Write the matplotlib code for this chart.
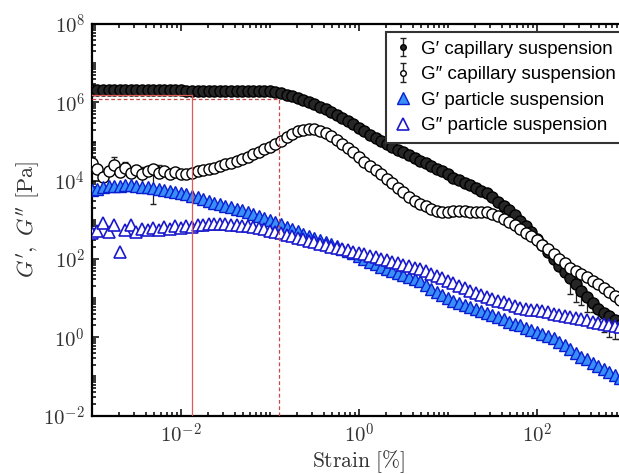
#!/usr/bin/env python
# -*- coding: utf-8 -*-

"""
Amplitude sweep: G' / G'' of a capillary suspension vs. a plain particle suspension
"""

import numpy as np
import matplotlib
matplotlib.use("Agg")
import matplotlib.pyplot as plt
from matplotlib.ticker import FixedLocator, FixedFormatter, LogLocator, NullFormatter

# ---- data ----
strain = [1.00e-3, 1.15e-3, 1.33e-3, 1.54e-3, 1.78e-3, 2.05e-3, 2.37e-3, 2.74e-3,
          3.16e-3, 3.65e-3, 4.22e-3, 4.87e-3, 5.62e-3, 6.49e-3, 7.50e-3, 8.66e-3,
          1.00e-2, 1.15e-2, 1.33e-2, 1.54e-2, 1.78e-2, 2.05e-2, 2.37e-2, 2.74e-2,
          3.16e-2, 3.65e-2, 4.22e-2, 4.87e-2, 5.62e-2, 6.49e-2, 7.50e-2, 8.66e-2,
          1.00e-1, 1.15e-1, 1.33e-1, 1.54e-1, 1.78e-1, 2.05e-1, 2.37e-1, 2.74e-1,
          3.16e-1, 3.65e-1, 4.22e-1, 4.87e-1, 5.62e-1, 6.49e-1, 7.50e-1, 8.66e-1,
          1.00, 1.15, 1.33, 1.54, 1.78, 2.05, 2.37, 2.74,
          3.16, 3.65, 4.22, 4.87, 5.62, 6.49, 7.50, 8.66,
          10.0, 11.5, 13.3, 15.4, 17.8, 20.5, 23.7, 27.4,
          31.6, 36.5, 42.2, 48.7, 56.2, 64.9, 75.0, 86.6,
          100., 115., 133., 154., 178., 205., 237., 274.,
          316., 365., 422., 487., 562., 649., 750., 866.]

g1_cap = [2.05e6, 2.05e6, 2.04e6, 2.05e6, 2.04e6, 2.04e6, 2.04e6, 2.03e6,
          2.04e6, 2.03e6, 2.03e6, 2.03e6, 2.02e6, 2.03e6, 2.02e6, 2.02e6,
          2.02e6, 2.01e6, 2.01e6, 2.01e6, 2.00e6, 2.00e6, 2.00e6, 1.99e6,
          1.99e6, 1.98e6, 1.98e6, 1.97e6, 1.96e6, 1.95e6, 1.94e6, 1.93e6,
          1.91e6, 1.80e6, 1.70e6, 1.55e6, 1.44e6, 1.30e6, 1.16e6, 1.04e6,
          9.3e5, 7.85e5, 6.6e5, 5.6e5, 4.74e5, 4.03e5, 3.39e5, 2.75e5,
          2.24e5, 1.84e5, 1.51e5, 1.26e5, 1.02e5, 8.7e4, 7.4e4, 6.24e4,
          5.25e4, 4.47e4, 3.78e4, 3.22e4, 2.75e4, 2.34e4, 2.0e4, 1.72e4,
          1.44e4, 1.2e4, 1.03e4, 8.8e3, 7.6e3, 6.5e3, 5.56e3, 4.78e3,
          3.72e3, 2.88e3, 2.24e3, 1.74e3, 1.32e3, 955, 690, 490,
          330, 225, 151, 99, 65, 46, 33, 23,
          15.5, 10.4, 7.4, 5.4, 4.2, 3.4, 2.7, 2.1]

g2_cap = [2.8e4, 2.0e4, 1.26e4, 1.82e4, 2.5e4, 1.66e4, 2.14e4, 1.58e4,
          1.9e4, 1.45e4, 1.74e4, 2.0e4, 1.58e4, 1.82e4, 1.48e4, 1.62e4,
          1.45e4, 1.51e4, 1.58e4, 1.74e4, 1.86e4, 2.0e4, 2.16e4, 2.34e4,
          2.6e4, 2.85e4, 3.13e4, 3.5e4, 4.07e4, 4.8e4, 5.56e4, 6.46e4,
          7.24e4, 8.5e4, 1.05e5, 1.32e5, 1.58e5, 1.84e5, 2.02e5, 2.11e5,
          2.09e5, 1.86e5, 1.62e5, 1.35e5, 1.07e5, 8.5e4, 6.8e4, 5.25e4,
          4.0e4, 3.05e4, 2.4e4, 1.86e4, 1.46e4, 1.12e4, 8.5e3, 6.5e3,
          5.0e3, 3.8e3, 3.0e3, 2.57e3, 2.19e3, 1.9e3, 1.72e3, 1.62e3,
          1.62e3, 1.66e3, 1.66e3, 1.64e3, 1.62e3, 1.6e3, 1.58e3, 1.55e3,
          1.38e3, 1.23e3, 1.07e3, 870, 720, 596, 473, 380,
          302, 229, 176, 133, 102, 79, 60, 50,
          41, 34, 27.5, 22.4, 18.2, 14.5, 11.5, 9.1]

g1_par = [5.8e3, 6.3e3, 6.8e3, 7.2e3, 7.4e3, 7.5e3, 7.6e3, 7.6e3,
          7.3e3, 7.1e3, 6.8e3, 6.6e3, 6.2e3, 5.9e3, 5.6e3, 5.2e3,
          4.9e3, 4.5e3, 4.1e3, 3.76e3, 3.4e3, 3.05e3, 2.75e3, 2.5e3,
          2.3e3, 2.1e3, 1.93e3, 1.76e3, 1.6e3, 1.45e3, 1.26e3, 1.12e3,
          980, 860, 760, 660, 575, 510, 447, 390,
          343, 302, 270, 237, 209, 184, 162, 138,
          118, 100, 85, 73, 63, 56, 49, 44,
          39, 35, 31, 28, 22, 17, 14.1, 12,
          10.1, 8.6, 7.6, 6.7, 5.9, 5.2, 4.6, 4.1,
          3.6, 3.2, 2.85, 2.5, 2.24, 2.0, 1.76, 1.57,
          1.38, 1.23, 1.08, 0.95, 0.77, 0.62, 0.50, 0.40,
          0.32, 0.27, 0.22, 0.184, 0.155, 0.129, 0.107, 0.090]

g2_par = [460, 525, 850, 480, 720, 148, 550, 720,
          500, 600, 540, 630, 560, 660, 590, 690,
          620, 710, 660, 740, 720, 780, 760, 770,
          760, 750, 730, 710, 680, 650, 620, 575,
          530, 490, 450, 410, 380, 350, 320, 295,
          270, 245, 225, 207, 193, 178, 166, 155,
          141, 132, 120, 112, 102, 94, 86, 79,
          72, 65, 60, 54, 48, 42, 36, 32,
          27, 23.7, 20.4, 17.8, 15.5, 13.6, 12, 10.5,
          9.4, 8.6, 7.8, 7.0, 6.3, 5.75, 5.4, 5.1,
          4.85, 4.6, 4.3, 4.0, 3.76, 3.55, 3.3, 3.1,
          2.9, 2.7, 2.5, 2.35, 2.2, 2.07, 1.93, 1.8]

# error bars: G'' capillary (first points), G' capillary (last points)
g2_cap_err_lo = [5e3, 4e3, 2e3, 4e3, 6e3, 3e3, 5e3, 3e3, 4e3, 7.7e3, 3e3, 1.74e4, 3e3, 3e3, 2.5e3, 2e3, 1.5e3]
g2_cap_err_hi = [6e3, 5e3, 4e3, 4e3, 1.5e4, 3e3, 8e3, 3e3, 4e3, 7.5e3, 5e3, 5e3, 8.7e3, 4e3, 3e3, 2e3, 1.5e3]
g1_cap_err_lo = [20, 15, 9, 6, 3, 2.5, 2.8, 2.4, 1.8, 1.2]
g1_cap_err_hi = [6, 5, 4, 3, 2, 1.5, 1.2, 1.0, 0.8, 0.6]

# limits marked with red lines (solid / dashed)
lve_solid = (1.32e-2, 1.58e6)
lve_dashed = (1.26e-1, 1.19e6)

labels = ["G\u2032 capillary suspension", "G\u2033 capillary suspension",
          "G\u2032 particle suspension", "G\u2033 particle suspension"]
x_ticks = [1e-2, 1e0, 1e2]
x_ticklabels = [r"$10^{-2}$", r"$10^{0}$", r"$10^{2}$"]
y_ticks = [1e-2, 1e0, 1e2, 1e4, 1e6, 1e8]
y_ticklabels = [r"$10^{-2}$", r"$10^{0}$", r"$10^{2}$", r"$10^{4}$", r"$10^{6}$", r"$10^{8}$"]


def full_err(lo, hi, n, start):
    """pad partial error lists to full length"""
    e = np.zeros((2, n))
    e[0, start:start + len(lo)] = lo
    e[1, start:start + len(hi)] = hi
    return e


def main():
    plt.rcParams['mathtext.fontset'] = 'cm'
    fig = plt.figure(figsize=(6.19, 4.74), dpi=100)
    # right side of the original is cropped, so the axes run past the figure edge
    ax = fig.add_axes([0.1486, 0.1234, 0.8627, 0.8257])
    ax.set_xscale('log')
    ax.set_yscale('log')

    n = len(strain)
    err2 = full_err(g2_cap_err_lo, g2_cap_err_hi, n, 0)
    err1 = full_err(g1_cap_err_lo, g1_cap_err_hi, n, n - len(g1_cap_err_lo))

    ax.errorbar(strain, g1_cap, yerr=err1, fmt='o', ms=8, mfc='#262626', mec='black', mew=1.0,
                ecolor='#222222', elinewidth=0.9, capsize=2, zorder=3)
    ax.errorbar(strain, g2_cap, yerr=err2, fmt='o', ms=8, mfc='white', mec='black', mew=1.0,
                ecolor='#222222', elinewidth=0.9, capsize=2, zorder=3)
    ax.plot(strain, g1_par, '^', ms=8, mfc='#3a8ef8', mec='#0a1ed0', mew=1.0, zorder=4)
    ax.plot(strain, g2_par, '^', ms=8, mfc='white', mec='#1a1acc', mew=1.2, zorder=4)

    # red reference lines
    ax.plot([1e-3, lve_solid[0], lve_solid[0]], [lve_solid[1], lve_solid[1], 1e-2],
            color='#e05a5a', lw=0.9, zorder=5)
    ax.plot([1e-3, lve_dashed[0], lve_dashed[0]], [lve_dashed[1], lve_dashed[1], 1e-2],
            color='#c84848', lw=0.9, ls=(0, (3, 2)), zorder=5)

    ax.set_xlim(1e-3, 1e3)
    ax.set_ylim(1e-2, 1e8)

    ax.xaxis.set_major_locator(FixedLocator(x_ticks))
    ax.xaxis.set_major_formatter(FixedFormatter(x_ticklabels))
    ax.yaxis.set_major_locator(FixedLocator(y_ticks))
    ax.yaxis.set_major_formatter(FixedFormatter(y_ticklabels))
    for axis in (ax.xaxis, ax.yaxis):
        axis.set_minor_locator(LogLocator(base=10, subs=np.arange(1, 10), numticks=30))
        axis.set_minor_formatter(NullFormatter())

    ax.tick_params(which='both', direction='in', top=True, right=False, width=1.1, colors='black',
                   labelcolor='#333333', labelsize=15)
    ax.tick_params(which='major', length=5, pad=5)
    ax.tick_params(which='minor', length=3)
    for s in ['left', 'bottom', 'top']:
        ax.spines[s].set_linewidth(1.6)
    ax.spines['right'].set_visible(False)

    ax.set_xlabel(r"$\mathrm{Strain}\ [\%]$", fontsize=15.5, color='#333333', labelpad=1)
    ax.set_ylabel(r"$G',\ G''\ [\mathrm{Pa}]$", fontsize=16, color='#333333', labelpad=1)

    # legend with small proxy markers
    h1 = ax.errorbar([np.nan], [np.nan], yerr=[[1], [1]], fmt='o', ms=4, mfc='#262626', mec='black',
                     ecolor='#222222', elinewidth=1.0, capsize=2)
    h2 = ax.errorbar([np.nan], [np.nan], yerr=[[1], [1]], fmt='o', ms=4, mfc='white', mec='black',
                     ecolor='#222222', elinewidth=1.0, capsize=2)
    h3, = ax.plot([], [], '^', ms=9, mfc='#3a8ef8', mec='#0a1ed0', mew=1.0)
    h4, = ax.plot([], [], '^', ms=9, mfc='white', mec='#1a1acc', mew=1.2)
    leg = ax.legend([h1, h2, h3, h4], labels, loc='upper left',
                    bbox_to_anchor=(386 / 619, 1 - 32 / 474), bbox_transform=fig.transFigure,
                    borderaxespad=0, fancybox=False, framealpha=1, edgecolor='#333333',
                    prop={'family': ['Liberation Sans', 'DejaVu Sans'], 'size': 13.5},
                    handlelength=0.9, handletextpad=0.5, labelspacing=0.45, borderpad=0.45)
    leg.get_frame().set_linewidth(1.5)
    leg.set_zorder(10)

    fig.savefig("out.png", dpi=100)


if __name__ == "__main__":
    main()
